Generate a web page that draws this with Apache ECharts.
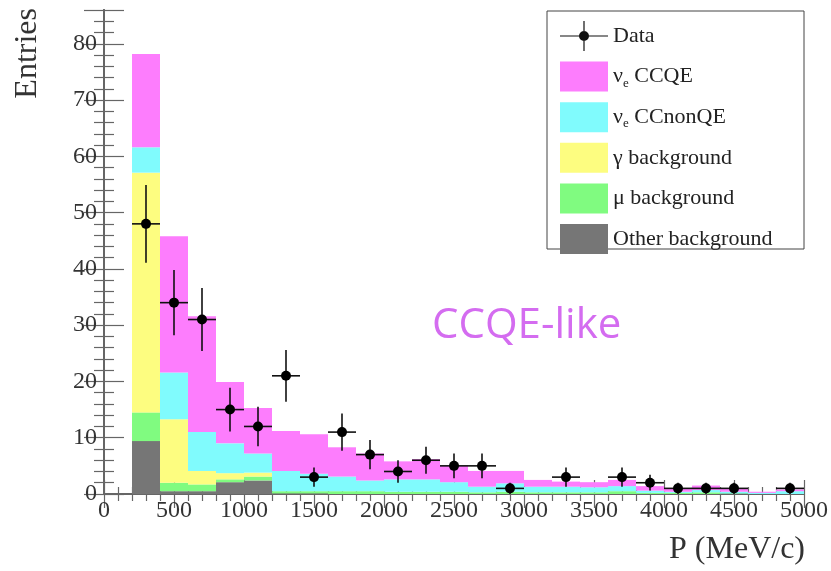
<!DOCTYPE html>
<html>
<head>
<meta charset="utf-8">
<script src="https://cdn.jsdelivr.net/npm/echarts@6/dist/echarts.min.js"></script>
<style>
  html, body { margin: 0; padding: 0; background: #fff; }
  #chart { width: 831px; height: 571px; }
</style>
</head>
<body>
<div id="chart"></div>
<script>
// bins of 200 MeV/c, lower edges
const binLow = [200, 400, 600, 800, 1000, 1200, 1400, 1600, 1800, 2000, 2200, 2400,
                2600, 2800, 3000, 3200, 3400, 3600, 3800, 4000, 4200, 4400, 4600, 4800];
const binWidth = 200;

// MC contributions per bin (stacked bottom -> top)
const otherBkg = [9.4, 0.5, 0.5, 2.1, 2.4, 0.1, 0.1, 0, 0, 0, 0, 0,
                  0, 0, 0, 0, 0, 0, 0, 0, 0, 0, 0, 0];
const muBkg = [5.1, 1.5, 1.2, 0.5, 0.7, 0.4, 0.4, 0.5, 0.5, 0.4, 0.4, 0.4,
               0.3, 0.4, 0.3, 0.3, 0.3, 0.5, 0.2, 0.2, 0.3, 0.1, 0, 0];
const gammaBkg = [42.6, 11.3, 2.4, 1.1, 0.7, 0, 0, 0, 0, 0, 0, 0,
                  0, 0, 0, 0, 0, 0, 0, 0, 0, 0, 0, 0];
const ccnonqe = [4.5, 8.3, 6.9, 5.3, 3.4, 3.6, 3.1, 2.6, 1.9, 2.2, 2.2, 1.7,
                 1.0, 1.5, 1.0, 1.0, 0.9, 0.9, 0.4, 0.2, 0.4, 0.3, 0.2, 0.5];
const ccqe = [16.6, 24.2, 20.6, 10.9, 8.1, 7.1, 7.0, 5.2, 4.8, 3.2, 3.6, 2.9,
              2.8, 2.2, 1.2, 0.9, 0.9, 1.1, 0.8, 0.5, 0.8, 0.5, 0.2, 0.3];

// data points (0 = empty bin, not drawn)
const dataCounts = [48, 34, 31, 15, 12, 21, 3, 11, 7, 4, 6, 5,
                    5, 1, 0, 3, 0, 3, 2, 1, 1, 1, 0, 1];
const dataErr = [6.9, 5.8, 5.6, 3.9, 3.5, 4.6, 1.7, 3.3, 2.6, 2.0, 2.4, 2.2,
                 2.2, 1.0, 0, 1.7, 0, 1.7, 1.4, 1.0, 1.0, 1.0, 0, 1.0];

const xTicks = [0, 5000, 500];
const yTicks = [0, 86, 10];

const serif = "'Liberation Serif', 'DejaVu Serif', serif";
const frameColor = "#666";

const layers = [
    { name: "Other background", color: "#767676", values: otherBkg },
    { name: "μ background", color: "#80fb80", values: muBkg },
    { name: "γ background", color: "#fdfd80", values: gammaBkg },
    { name: "νe CCnonQE", color: "#80fbfd", values: ccnonqe },
    { name: "νe CCQE", color: "#fd7dfd", values: ccqe }
];

function renderBin(params, api) {
    const p0 = api.coord([api.value(0), api.value(3)]);
    const p1 = api.coord([api.value(1), api.value(2)]);
    return {
        type: "rect",
        shape: { x: p0[0], y: p0[1], width: p1[0] - p0[0], height: p1[1] - p0[1] },
        style: { fill: api.visual("color") }
    };
}

function renderPoint(params, api) {
    const x = api.value(0), y = api.value(1), e = api.value(2);
    const c = api.coord([x, y]);
    const l = api.coord([x - binWidth / 2, y]);
    const r = api.coord([x + binWidth / 2, y]);
    const t = api.coord([x, y + e]);
    const b = api.coord([x, Math.max(0, y - e)]);
    const line = { stroke: "#111", lineWidth: 1.6 };
    return {
        type: "group",
        children: [
            { type: "line", shape: { x1: l[0], y1: l[1], x2: r[0], y2: r[1] }, style: line },
            { type: "line", shape: { x1: t[0], y1: t[1], x2: b[0], y2: b[1] }, style: line },
            { type: "circle", shape: { cx: c[0], cy: c[1], r: 5 }, style: { fill: "#000" } }
        ]
    };
}

let base = binLow.map(() => 0);
const stackSeries = layers.map(layer => {
    const data = binLow.map((lo, i) => [lo, lo + binWidth, base[i], base[i] + layer.values[i]]);
    base = base.map((v, i) => v + layer.values[i]);
    return {
        name: layer.name,
        type: "custom",
        renderItem: renderBin,
        itemStyle: { color: layer.color },
        encode: { x: [0, 1], y: [2, 3] },
        clip: true,
        data: data
    };
});

const pointData = [];
binLow.forEach((lo, i) => {
    if (dataCounts[i] > 0) {
        pointData.push([lo + binWidth / 2, dataCounts[i], dataErr[i]]);
    }
});

const dataIcon = "path://M0 14.4H48V15.6H0Z M23.4 0H24.6V30H23.4Z M19 15A5 5 0 1 1 29 15A5 5 0 1 1 19 15Z";

function xAxisDef(pos, labels) {
    return {
        type: "value",
        position: pos,
        min: xTicks[0],
        max: xTicks[1],
        interval: xTicks[2],
        axisLine: { show: true, lineStyle: { color: frameColor, width: 2 } },
        axisTick: { show: true, inside: true, length: 14, lineStyle: { color: frameColor, width: 1.2 } },
        minorTick: { show: true, splitNumber: 5, length: 7, lineStyle: { color: frameColor, width: 1.2 } },
        splitLine: { show: false },
        axisLabel: {
            show: labels,
            margin: 5,
            color: "#333",
            fontFamily: serif,
            fontSize: 24,
            formatter: v => String(v)
        }
    };
}

function yAxisDef(pos, labels) {
    return {
        type: "value",
        position: pos,
        min: yTicks[0],
        max: yTicks[1],
        interval: yTicks[2],
        axisLine: { show: true, lineStyle: { color: frameColor, width: 2 } },
        axisTick: { show: true, inside: true, length: 20, lineStyle: { color: frameColor, width: 1.2 } },
        minorTick: { show: true, splitNumber: 5, length: 10, lineStyle: { color: frameColor, width: 1.2 } },
        splitLine: { show: false },
        axisLabel: {
            show: labels,
            margin: 7,
            showMaxLabel: false,
            color: "#333",
            fontFamily: serif,
            fontSize: 24
        }
    };
}

const chart = echarts.init(document.getElementById("chart"));
chart.setOption({
    animation: false,
    backgroundColor: "#fff",
    grid: { left: 104, right: 27, top: 10, bottom: 77 },
    xAxis: [xAxisDef("bottom", true), xAxisDef("top", false)],
    yAxis: [yAxisDef("left", true), yAxisDef("right", false)],
    legend: {
        left: 555,
        top: 16,
        orient: "vertical",
        itemWidth: 48,
        itemHeight: 30,
        itemGap: 10.6,
        selectedMode: false,
        data: [
            { name: "Data", icon: dataIcon, itemStyle: { color: "#111" } },
            { name: "νe CCQE", icon: "rect" },
            { name: "νe CCnonQE", icon: "rect" },
            { name: "γ background", icon: "rect" },
            { name: "μ background", icon: "rect" },
            { name: "Other background", icon: "rect" }
        ],
        formatter: name => {
            if (name.indexOf("νe") === 0) {
                return "{n|ν}{s|e}{n|" + name.slice(2) + "}";
            }
            return "{n|" + name + "}";
        },
        textStyle: {
            rich: {
                n: { fontFamily: serif, fontSize: 22, color: "#222", lineHeight: 26 },
                s: { fontFamily: serif, fontSize: 13, color: "#222", lineHeight: 26, verticalAlign: "bottom", padding: [8, 0, 0, 0] }
            }
        }
    },
    graphic: [
        {
            type: "rect",
            z: 3,
            shape: { x: 547, y: 11, width: 257, height: 238 },
            style: { fill: "#fff", stroke: "#444", lineWidth: 1 }
        },
        {
            type: "text",
            left: 432,
            top: 305,
            style: {
                text: "CCQE-like",
                fill: "#d46cf0",
                font: "42px 'Open Sans', sans-serif"
            }
        },
        {
            type: "text",
            left: 12,
            top: 8,
            rotation: Math.PI / 2,
            style: {
                text: "Entries",
                fill: "#333",
                font: "32px " + serif
            }
        },
        {
            type: "text",
            right: 26,
            top: 534,
            style: {
                text: "P (MeV/c)",
                fill: "#333",
                font: "32px " + serif
            }
        }
    ],
    series: stackSeries.concat([{
        name: "Data",
        type: "custom",
        renderItem: renderPoint,
        itemStyle: { color: "#111" },
        encode: { x: 0, y: 1 },
        z: 5,
        clip: true,
        data: pointData
    }])
});
</script>
</body>
</html>
